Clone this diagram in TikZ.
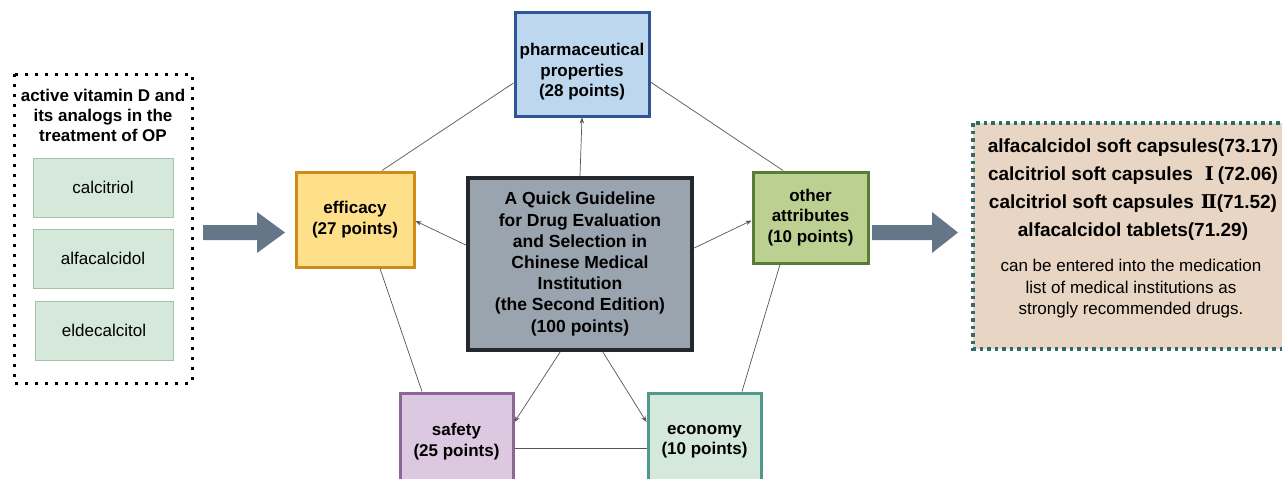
\documentclass[tikz,border=0pt]{standalone}
\usepackage{fontspec}
\setmainfont{Liberation Sans}
\newfontfamily\rmn{DejaVu Serif}
\usetikzlibrary{arrows.meta,shadows}
\definecolor{effFill}{HTML}{FFE08A}
\definecolor{effLine}{HTML}{D08C1A}
\definecolor{phFill}{HTML}{BDD7EE}
\definecolor{phLine}{HTML}{2F5597}
\definecolor{cFill}{HTML}{9AA4AE}
\definecolor{cLine}{HTML}{23292F}
\definecolor{oaFill}{HTML}{BCD191}
\definecolor{oaLine}{HTML}{5A7D36}
\definecolor{saFill}{HTML}{DDC8E2}
\definecolor{saLine}{HTML}{8C6796}
\definecolor{ecFill}{HTML}{D5E8DC}
\definecolor{ecLine}{HTML}{4F9A8C}
\definecolor{rbFill}{HTML}{E8D5C3}
\definecolor{rbLine}{HTML}{2F6B6B}
\definecolor{drugFill}{HTML}{D5E8D9}
\definecolor{drugLine}{HTML}{A3C2AA}
\definecolor{bigArrow}{HTML}{647687}
\definecolor{connCol}{HTML}{555555}
\tikzset{
  box/.style={rectangle, draw, line width=3pt, inner sep=0pt, align=center,
    font=\bfseries\fontsize{17}{20.5}\selectfont,
    drop shadow={opacity=0.2, shadow xshift=2pt, shadow yshift=-2pt}},
  drugbox/.style={rectangle, draw=drugLine, fill=drugFill, line width=1pt,
    inner sep=0pt, font=\fontsize{17}{20}\selectfont},
  conn/.style={draw=connCol, line width=0.7pt},
  arr/.style={conn, -{Stealth[length=6pt,width=4.5pt]}},
  plain/.style={inner sep=0pt, align=center}
}
\begin{document}
\begin{tikzpicture}[x=1pt,y=-1pt]
\useasboundingbox (0,0) rectangle (1282,479);
\clip (0,0) rectangle (1282,479);

% left dotted group
\draw[line width=3pt, dash pattern=on 3pt off 7pt] (14,74) rectangle (192,383);
\node[plain, font=\bfseries\fontsize{17}{20}\selectfont] (lhead) at (103,115)
  {active vitamin D and\\its analogs in the\\treatment of OP};
\node[drugbox, minimum width=140, minimum height=59] (d1) at (103,187.5) {calcitriol};
\node[drugbox, minimum width=140, minimum height=59] (d2) at (103,258.5) {alfacalcidol};
\node[drugbox, minimum width=138, minimum height=59] (d3) at (104,330.5) {eldecalcitol};

% big arrows
\fill[bigArrow] (203,225) -- (257,225) -- (257,212) -- (285,232.5) -- (257,253) -- (257,240) -- (203,240) -- cycle;
\fill[bigArrow] (872,225) -- (932,225) -- (932,212) -- (958,232.5) -- (932,253) -- (932,240) -- (872,240) -- cycle;

% boxes
\node[box, draw=phLine, fill=phFill, minimum width=134, minimum height=104] (ph) at (582,64) {};
\node[plain, font=\bfseries\fontsize{17}{20.5}\selectfont] (phtext) at (582,72)
  {pharmaceutical\\properties\\(28 points)};
\node[box, draw=effLine, fill=effFill, minimum width=118, minimum height=95] (eff) at (355,219.5)
  {efficacy\\(27 points)};
\node[box, draw=oaLine, fill=oaFill, minimum width=115, minimum height=91] (oa) at (810.5,217.5)
  {other\\attributes\\(10 points)};
\node[box, draw=saLine, fill=saFill, minimum width=113, minimum height=97] (sa) at (456.5,441.5)
  {safety\\(25 points)};
\node[box, draw=ecLine, fill=ecFill, minimum width=113, minimum height=97] (ec) at (704.5,441.5)
  {economy\\(10 points)};
\node[box, draw=cLine, fill=cFill, line width=4.5pt, minimum width=224, minimum height=172,
  font=\bfseries\fontsize{17.5}{21.2}\selectfont] (c) at (580,264)
  {A Quick Guideline\\for Drug Evaluation\\and Selection in\\Chinese Medical\\Institution\\(the Second Edition)\\(100 points)};

% right result box
\draw[rbLine, fill=rbFill, line width=3.5pt, dash pattern=on 3.5pt off 4pt] (973,123) rectangle (1294,349);
\node[plain, font=\bfseries\fontsize{19}{28}\selectfont] (rbold) at (1133,190)
  {alfacalcidol soft capsules(73.17)\\calcitriol soft capsules\hspace{12pt}{\rmn\bfseries Ⅰ}\hspace{4pt}(72.06)\\calcitriol soft capsules\hspace{7pt}{\rmn\bfseries Ⅱ}(71.52)\\alfacalcidol tablets(71.29)};
\node[plain, font=\fontsize{17}{21.5}\selectfont] (rnote) at (1131,289)
  {can be entered into the medication\\list of medical institutions as\\strongly recommended drugs.};

% connectors with arrows
\draw[arr] (c.north) -- (ph.south);
\draw[arr] ([yshift=19pt]c.west) -- ([yshift=-1.5pt]eff.east);
\draw[arr] ([yshift=16pt]c.east) -- ([yshift=-3pt]oa.west);
\draw[arr] ([xshift=-20pt]c.south) -- ([yshift=19.5pt]sa.east);
\draw[arr] ([xshift=23pt]c.south) -- ([yshift=19.5pt]ec.west);

% pentagon lines
\draw[conn] ([yshift=-19pt]ph.west) -- ([xshift=27pt]eff.north);
\draw[conn] ([yshift=-18pt]ph.east) -- ([xshift=-27.5pt]oa.north);
\draw[conn] ([xshift=25pt]eff.south) -- ([xshift=-34.5pt]sa.north);
\draw[conn] ([xshift=-30.5pt]oa.south) -- ([xshift=37.5pt]ec.north);
\draw[conn] ([yshift=-6.5pt]sa.east) -- ([yshift=-6.5pt]ec.west);
\end{tikzpicture}
\end{document}
